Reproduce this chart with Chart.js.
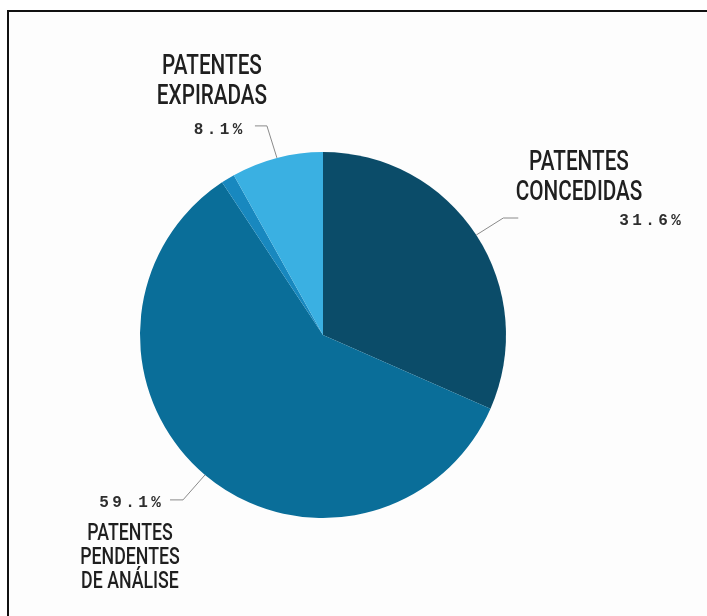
<!DOCTYPE html>
<html>
<head>
<meta charset="utf-8">
<script src="https://cdn.jsdelivr.net/npm/chart.js@4/dist/chart.umd.min.js"></script>
<style>
  html, body { margin: 0; padding: 0; background: #fff; overflow: hidden; }
  #wrap { position: relative; width: 707px; height: 616px; overflow: hidden; }
  #frame { position: absolute; left: 7px; top: 10px; width: 720px; height: 640px;
           border-top: 2px solid #111; border-left: 2px solid #111; background: #fdfdfd; }
  canvas { position: absolute; left: 0; top: 0; }
</style>
</head>
<body>
<div id="wrap">
  <div id="frame"></div>
  <canvas id="pie" width="707" height="616"></canvas>
</div>
<script>
// slices, clockwise from 12 o'clock
const categories = [
  ['PATENTES', 'CONCEDIDAS'],
  ['PATENTES', 'PENDENTES', 'DE ANÁLISE'],
  [''],
  ['PATENTES', 'EXPIRADAS'],
]
const shares = [31.6, 59.1, 1.2, 8.1]
const pctLabels = ['31.6%', '59.1%', '', '8.1%']
const sliceColors = ['#0b4c69', '#0a6e99', '#1888bf', '#3ab0e2']

// where each callout goes (leader elbow offset from the arc edge, text anchors)
const callouts = [
  { i: 0, elbow: [27, -17], tail: 15,  name: { x: 579, y: 163, size: 28, gap: 29.5 }, pct: { x: 650, y: 221 } },
  { i: 1, elbow: [-22, 25], tail: -13, name: { x: 130, y: 534, size: 24, gap: 24 },   pct: { x: 130, y: 503 } },
  { i: 3, elbow: [-10, -32], tail: -12, name: { x: 212, y: 67, size: 28, gap: 30 },   pct: { x: 218, y: 130 } },
]

function drawSpaced(ctx, text, cx, cy, spacing) {
  const widths = [...text].map(c => ctx.measureText(c).width)
  const total = widths.reduce((a, b) => a + b, 0) + spacing * (text.length - 1)
  let x = cx - total / 2
  ;[...text].forEach((c, k) => {
    ctx.fillText(c, x, cy)
    x += widths[k] + spacing
  })
}

const calloutPlugin = {
  id: 'callouts',
  afterDatasetsDraw(chart) {
    const ctx = chart.ctx
    const arcs = chart.getDatasetMeta(0).data
    ctx.save()
    callouts.forEach(c => {
      const arc = arcs[c.i]
      const p = arc.getProps(['x', 'y', 'startAngle', 'endAngle', 'outerRadius'], true)
      const mid = (p.startAngle + p.endAngle) / 2
      const sx = p.x + Math.cos(mid) * p.outerRadius
      const sy = p.y + Math.sin(mid) * p.outerRadius
      const ex = sx + c.elbow[0]
      const ey = sy + c.elbow[1]
      ctx.strokeStyle = '#8a8a8a'
      ctx.lineWidth = 1
      ctx.beginPath()
      ctx.moveTo(sx, sy)
      ctx.lineTo(ex, ey)
      ctx.lineTo(ex + c.tail, ey)
      ctx.stroke()

      // percentage
      ctx.fillStyle = '#2e2e2e'
      ctx.font = 'bold 16px "Liberation Mono", "DejaVu Sans Mono", monospace'
      ctx.textAlign = 'left'
      ctx.textBaseline = 'middle'
      drawSpaced(ctx, pctLabels[c.i], c.pct.x, c.pct.y, 3.4)

      // category name, condensed
      ctx.fillStyle = '#1f1f1f'
      ctx.font = '500 ' + c.name.size + 'px Roboto, "Noto Sans", sans-serif'
      ctx.textAlign = 'center'
      categories[c.i].forEach((line, k) => {
        ctx.save()
        ctx.translate(c.name.x, c.name.y + k * c.name.gap)
        ctx.scale(0.74, 1)
        ctx.fillText(line, 0, 0)
        ctx.restore()
      })
    })
    ctx.restore()
  }
}

new Chart(document.getElementById('pie'), {
  type: 'pie',
  data: {
    labels: categories,
    datasets: [{
      data: shares,
      backgroundColor: sliceColors,
      borderWidth: 0,
      hoverOffset: 0,
    }]
  },
  options: {
    responsive: false,
    animation: false,
    layout: { padding: { left: 140, right: 201, top: 152, bottom: 98 } },
    plugins: {
      legend: { display: false },
      tooltip: { enabled: false },
    }
  },
  plugins: [calloutPlugin]
})
</script>
</body>
</html>
